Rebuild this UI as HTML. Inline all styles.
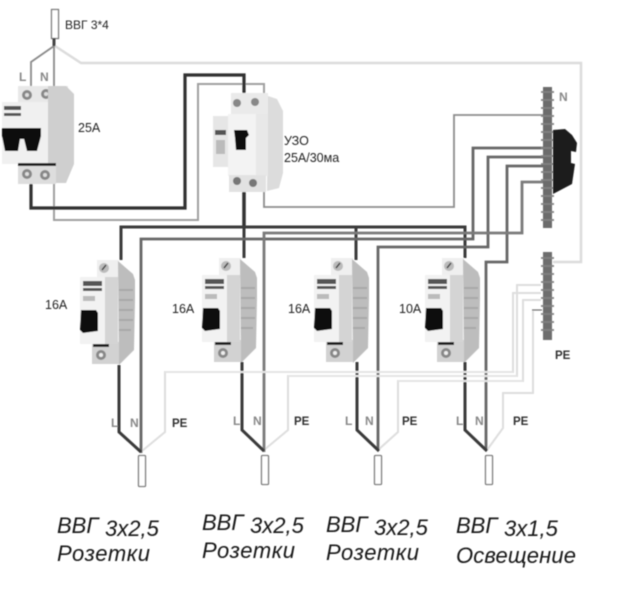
<!DOCTYPE html>
<html><head><meta charset="utf-8">
<style>
html,body{margin:0;padding:0;background:#fff;width:618px;height:609px;overflow:hidden}
svg{display:block}
text{font-family:"Liberation Sans",sans-serif}
.lb{font-size:12.5px;fill:#222}
.g{font-size:12px;font-weight:bold;fill:#888}
.d{font-size:11.500px;font-weight:bold;fill:#333}
.t{font-size:22px;font-style:italic;fill:#151515}
</style></head><body>
<svg width="618" height="609" viewBox="0 0 618 609" xmlns="http://www.w3.org/2000/svg">
<defs>
<filter id="b" x="-5%" y="-5%" width="110%" height="110%"><feGaussianBlur stdDeviation="0.5"/></filter>
<g id="mcb">
  <rect x="97" y="260" width="22" height="20" fill="#efefef"/>
  <circle cx="104" cy="268" r="5" fill="#bbb"/><path d="M102 270l4-5" stroke="#444" stroke-width="1.5"/>
  <path d="M118 261l15 13 2 6v20l-1 50-15 15z" fill="#bdbdbd"/>
  <path d="M119 290h14M119 300h14M119 310h14M119 320h14M119 330h12" stroke="#a8a8a8" stroke-width="2"/>
  <rect x="92" y="342" width="27" height="22" fill="#d2d2d2"/>
  <rect x="93" y="344" width="16" height="3" fill="#222"/>
  <circle cx="101" cy="355" r="5" fill="#888"/><circle cx="101" cy="355" r="2" fill="#eee"/>
  <rect x="80" y="277" width="38" height="67" fill="#f2f2f2"/>
  <rect x="105" y="277" width="13" height="67" fill="#d4d4d4"/>
  <rect x="83" y="281" width="19" height="5" fill="#555"/><rect x="83" y="288" width="19" height="3" fill="#555"/>
  <rect x="83" y="296" width="12" height="5" fill="#bbb"/>
  <path d="M81 310h15l2 3v18l-15 2-3-3z" fill="#111"/>
</g>
</defs>
<rect width="618" height="609" fill="#fff"/>
<g filter="url(#b)">
  <!-- PE feed light -->
  <path d="M55 46L81 63H581V262H553" fill="none" stroke="#dcdcdc" stroke-width="2.5"/>
  <!-- light PE wires -->
  <g fill="none" stroke="#dedede" stroke-width="2">
    <path d="M142 451L165 432V372H513V293H541"/>
    <path d="M264 450L288 430V376H517V285H541"/>
    <path d="M378 450L398 432V381H523V300H541"/>
    <path d="M487 450L503 428V393H533V310H541"/>
  </g>
  <!-- main input -->
  <rect x="51.5" y="9.5" width="7" height="29" fill="#fff" stroke="#777" stroke-width="1.3"/>
  <path d="M54 38V46L31 62V86M54 46V86" fill="none" stroke="#8a8a8a" stroke-width="1.8"/>
  <path d="M54 38V46" stroke="#444" stroke-width="3"/>
  <!-- N from MCB to RCD -->
  <path d="M54 183V220H198V84H264V97" fill="none" stroke="#a0a0a0" stroke-width="2"/>
  <!-- L from MCB to RCD -->
  <path d="M31 183V208H185V75H244V94" fill="none" stroke="#333" stroke-width="3.2"/>
  <!-- RCD N out -->
  <path d="M264 190V207H454V115H543" fill="none" stroke="#8d8d8d" stroke-width="1.8"/>
  <!-- L distribution -->
  <path d="M244 192V226" stroke="#333" stroke-width="3.5"/>
  <path d="M121 260V227H465V258M244 226V258M356 226V260" fill="none" stroke="#3a3a3a" stroke-width="3"/>
  <!-- N wires -->
  <g fill="none" stroke="#686868" stroke-width="2.8">
    <path d="M543 148H473V239H141V453"/>
    <path d="M543 157H488V247H378V450"/>
    <path d="M543 166H507V262H486V450"/>
    <path d="M543 182H522V233H264V452" stroke="#7a7a7a"/>
  </g>
  <!-- 2-pole breaker -->
  <rect x="18" y="86" width="50" height="18" fill="#e8e8e8"/>
  <circle cx="27" cy="95" r="5" fill="#888"/><circle cx="46" cy="94" r="5" fill="#888"/>
  <circle cx="27" cy="95" r="2" fill="#ddd"/><circle cx="46" cy="94" r="2" fill="#ddd"/>
  <path d="M48 86h18l8 8v70l-8 19H48z" fill="#cfcfcf"/>
  <rect x="18" y="164" width="38" height="20" fill="#ddd"/>
  <circle cx="27" cy="174" r="5" fill="#888"/><circle cx="45" cy="175" r="5" fill="#888"/>
  <circle cx="27" cy="174" r="2" fill="#ddd"/><circle cx="45" cy="175" r="2" fill="#ddd"/>
  <rect x="2" y="102" width="46" height="62" fill="#f0f0f0"/>
  <rect x="4" y="106" width="17" height="4" fill="#555"/><rect x="4" y="113" width="17" height="3" fill="#555"/>
  <path d="M2 128H41V136L37 151H27L24 139H20L18 151H5L2 136z" fill="#111"/>
  <rect x="18" y="163" width="38" height="3" fill="#222"/>
  <!-- RCD -->
  <path d="M268 96l9 3 6 12v62l-4 15-12 3z" fill="#dcdcdc"/>
  <rect x="231" y="93" width="37" height="23" fill="#eaeaea"/>
  <circle cx="237" cy="103" r="4" fill="#888"/><circle cx="255" cy="102" r="4" fill="#888"/>
  <rect x="213" y="116" width="16" height="51" fill="#e6e6e6"/>
  <rect x="215" y="130" width="11" height="5" fill="#555"/><rect x="216" y="140" width="9" height="14" fill="#bbb"/>
  <rect x="228" y="114" width="28" height="62" fill="#f3f3f3"/>
  <rect x="256" y="114" width="12" height="62" fill="#e8e8e8"/>
  <path d="M234 130h13l2 5-3 3v12h-10l-1-12z" fill="#111"/>
  <rect x="229" y="175" width="37" height="17" fill="#e2e2e2"/>
  <circle cx="237" cy="181" r="4" fill="#777"/><circle cx="253" cy="183" r="4" fill="#777"/>
  <!-- N bus -->
  <rect x="543" y="87" width="9" height="141" fill="#6c6c6c"/>
  <path d="M541 92h13M541 100h13M541 108h13M541 116h13M541 124h13M541 132h13M541 140h13M541 148h13M541 156h13M541 164h13M541 172h13M541 180h13M541 188h13M541 196h13M541 204h13M541 212h13M541 220h13" stroke="#828282" stroke-width="1.8"/>
  <path d="M553 130l12-1 7 6 5 8-1 9-5-1v12l4 1-3 20-19 10z" fill="#1a1a1a"/>
  <!-- PE bus -->
  <rect x="543" y="252" width="9" height="88" fill="#6e6e6e"/>
  <path d="M541 258h13M541 266h13M541 274h13M541 282h13M541 290h13M541 298h13M541 306h13M541 314h13M541 322h13M541 330h13" stroke="#828282" stroke-width="1.8"/>
  <path d="M532 310h10" stroke="#444" stroke-width="1"/>
  <!-- Breakers -->
  <use href="#mcb"/>
  <use href="#mcb" x="122" y="-2"/>
  <use href="#mcb" x="234" y="-2"/>
  <use href="#mcb" x="345" y="-2"/>
  <!-- L out -->
  <g fill="none" stroke="#3a3a3a" stroke-width="3">
    <path d="M119 365V432L141 452"/>
    <path d="M242 362V430L264 451"/>
    <path d="M357 362V430L379 451"/>
    <path d="M465 362V430L487 451"/>
  </g>
  <path d="M165 372H513M288 376H517M398 381H523" fill="none" stroke="#e4e4e4" stroke-width="2"/>
  <!-- cables -->
  <g fill="#fff" stroke="#777" stroke-width="1.3">
    <rect x="138.500" y="455.500" width="7" height="31" rx="1"/>
    <rect x="261.500" y="455.500" width="7" height="29" rx="1"/>
    <rect x="374.500" y="455.500" width="7" height="29" rx="1"/>
    <rect x="485.500" y="455.500" width="7" height="29" rx="1"/>
  </g>
  <!-- labels -->
  <text x="65" y="29" class="lb" style="font-size:12px">ВВГ 3*4</text>
  <text x="78" y="132" class="lb">25А</text>
  <text x="284" y="145" class="lb">УЗО</text>
  <text x="284" y="162" class="lb">25А/30ма</text>
  <text x="45" y="309" class="lb">16А</text>
  <text x="172" y="313" class="lb">16А</text>
  <text x="288" y="313" class="lb">16А</text>
  <text x="399" y="313" class="lb">10А</text>
  <text x="19" y="81" class="g">L</text><text x="40" y="81" class="g">N</text>
  <text x="559" y="101" class="g">N</text>
  <text x="555" y="359" class="d">PE</text>
  <text x="111" y="427" class="g">L</text><text x="130" y="427" class="g">N</text><text x="172" y="427" class="d">PE</text>
  <text x="233" y="425" class="g">L</text><text x="253" y="425" class="g">N</text><text x="294" y="425" class="d">PE</text>
  <text x="345" y="425" class="g">L</text><text x="365" y="425" class="g">N</text><text x="402" y="425" class="d">PE</text>
  <text x="456" y="425" class="g">L</text><text x="475" y="425" class="g">N</text><text x="513" y="425" class="d">PE</text>
</g>
<g filter="url(#b)">
  <text x="57" y="533" class="t">ВВГ<tspan x="105" dy="3">3х2,5</tspan></text>
  <text x="57" y="561" class="t" textLength="93" lengthAdjust="spacing">Розетки</text>
  <text x="202" y="530" class="t">ВВГ<tspan x="250" dy="3">3х2,5</tspan></text>
  <text x="202" y="558" class="t" textLength="93" lengthAdjust="spacing">Розетки</text>
  <text x="326" y="532" class="t">ВВГ<tspan x="374" dy="3">3х2,5</tspan></text>
  <text x="326" y="560" class="t" textLength="93" lengthAdjust="spacing">Розетки</text>
  <text x="456" y="533" class="t">ВВГ<tspan x="504" dy="3">3х1,5</tspan></text>
  <text x="456" y="563" class="t" textLength="120" lengthAdjust="spacing">Освещение</text>
</g>
</svg>
</body></html>
